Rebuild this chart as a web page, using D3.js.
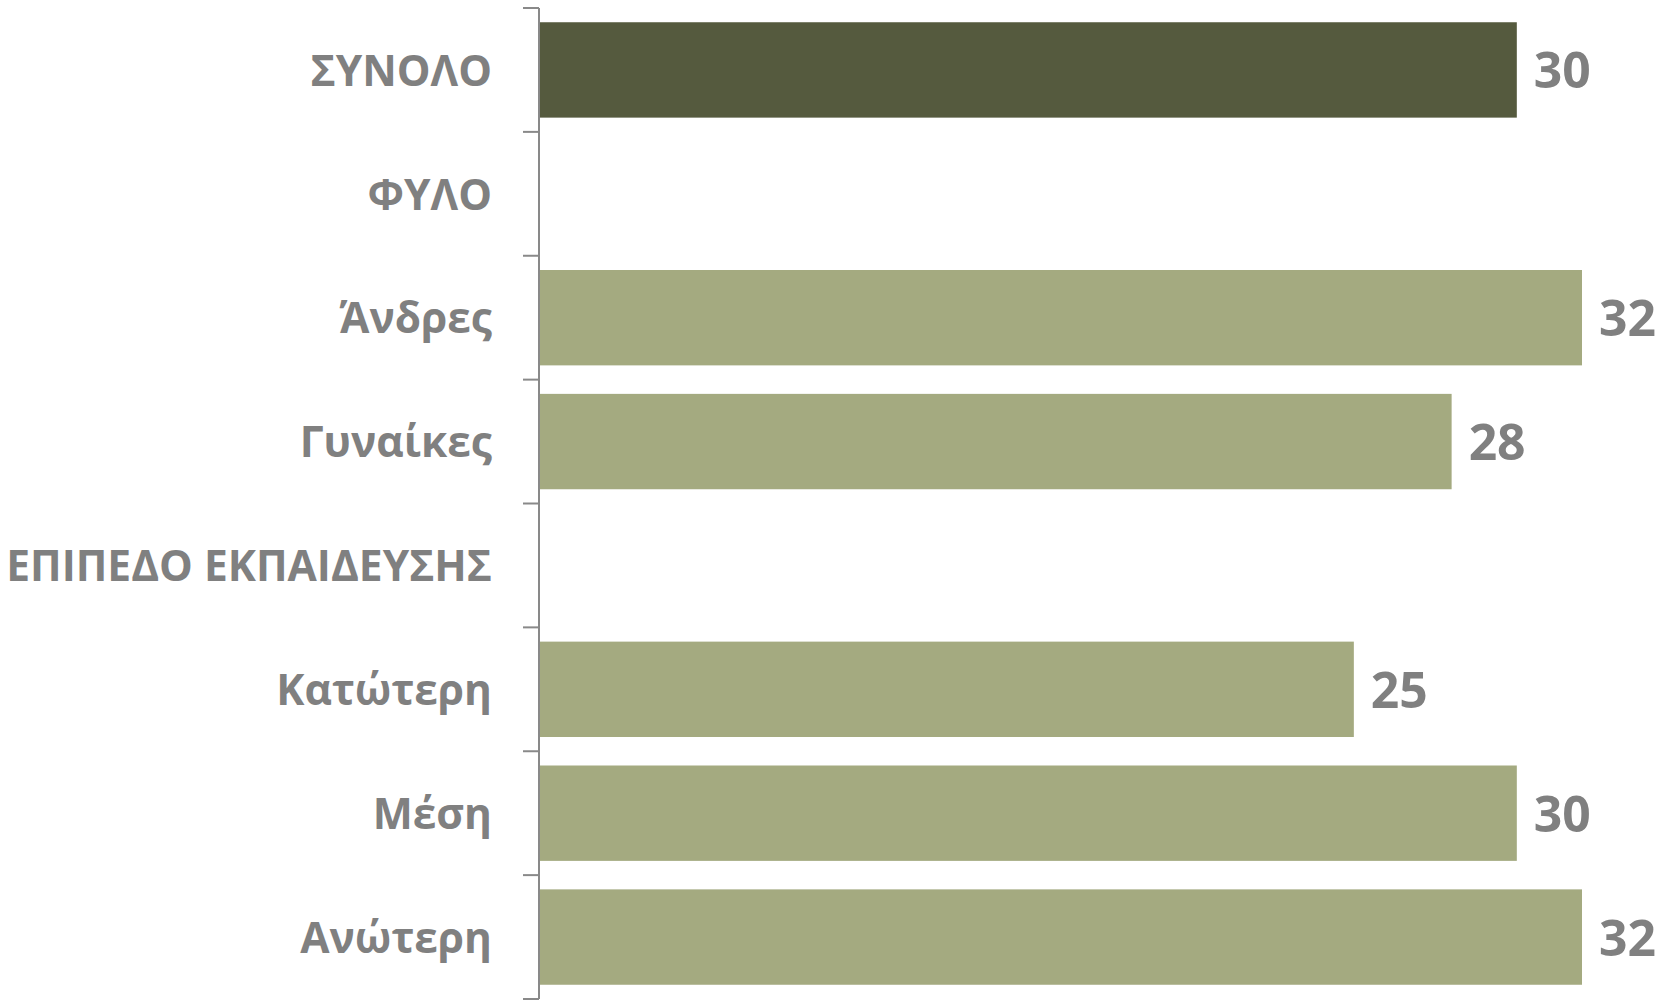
<!DOCTYPE html>
<html>
<head>
<meta charset="utf-8">
<script src="https://cdn.jsdelivr.net/npm/d3@7"></script>
<style>
  html, body { margin: 0; padding: 0; background: #ffffff; }
  svg { display: block; }
</style>
</head>
<body>
<svg id="chart" width="1672" height="1003"></svg>
<script>
// ---- data ----
const categories = ["ΣΥΝΟΛΟ", "ΦΥΛΟ", "Άνδρες", "Γυναίκες", "ΕΠΙΠΕΔΟ ΕΚΠΑΙΔΕΥΣΗΣ", "Κατώτερη", "Μέση", "Ανώτερη"];
const values = [30, null, 32, 28, null, 25, 30, 32];
const isTotal = [true, false, false, false, false, false, false, false];

// ---- layout ----
const axisX = 539, plotTop = 8, plotBottom = 999;
const svg = d3.select("#chart");

const x = d3.scaleLinear().domain([0, 32]).range([axisX, 1582]);
const y = d3.scaleBand().domain(categories).range([plotTop, plotBottom]).paddingInner(0.23).paddingOuter(0.115);

const textColor = "#808080";
const fontFam = "'Open Sans', 'Noto Sans', 'DejaVu Sans', sans-serif";

// fit font sizes to reference text widths
function fitSize(text, targetWidth, base) {
  const t = svg.append("text").attr("font-family", fontFam).attr("font-weight", 700)
    .attr("font-size", base).text(text);
  const w = t.node().getComputedTextLength();
  t.remove();
  return w > 0 ? base * targetWidth / w : base;
}
const labelSize = fitSize("ΕΠΙΠΕΔΟ ΕΚΠΑΙΔΕΥΣΗΣ", 486, 48);
const valueSize = fitSize("30", 57, 56);

// bars
const rows = categories.map((c, i) => ({ c, v: values[i], total: isTotal[i] }));
svg.append("g").selectAll("rect")
  .data(rows.filter(d => d.v !== null))
  .join("rect")
  .attr("x", x(0))
  .attr("y", d => y(d.c))
  .attr("width", d => x(d.v) - x(0))
  .attr("height", y.bandwidth())
  .attr("fill", d => d.total ? "#555A3E" : "#A4AA80");

// axis line + ticks at category boundaries
const ax = svg.append("g").attr("stroke", "#898989").attr("stroke-width", 2);
ax.append("line").attr("x1", axisX).attr("x2", axisX).attr("y1", plotTop).attr("y2", plotBottom);
const boundaries = d3.range(categories.length + 1).map(i => plotTop + i * y.step());
ax.selectAll("line.tick").data(boundaries).join("line").attr("class", "tick")
  .attr("x1", axisX - 16).attr("x2", axisX).attr("y1", d => d).attr("y2", d => d);

// category labels
svg.append("g").selectAll("text")
  .data(rows).join("text")
  .attr("x", 492)
  .attr("y", d => y(d.c) + y.bandwidth() / 2)
  .attr("dy", "0.37em")
  .attr("text-anchor", "end")
  .attr("font-family", fontFam)
  .attr("font-weight", 700)
  .attr("font-size", labelSize)
  .attr("fill", textColor)
  .text(d => d.c);

// value labels
svg.append("g").selectAll("text")
  .data(rows.filter(d => d.v !== null)).join("text")
  .attr("x", d => x(d.v) + 17)
  .attr("y", d => y(d.c) + y.bandwidth() / 2)
  .attr("dy", "0.37em")
  .attr("font-family", fontFam)
  .attr("font-weight", 700)
  .attr("font-size", valueSize)
  .attr("fill", textColor)
  .text(d => d.v);
</script>
</body>
</html>
